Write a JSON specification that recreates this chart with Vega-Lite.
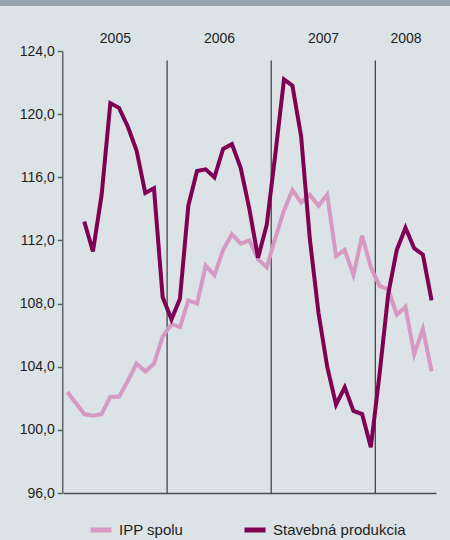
{
  "$schema": "https://vega.github.io/schema/vega-lite/v6.json",
  "background": "#dce3e7",
  "padding": 0,
  "spacing": 25,
  "bounds": "full",
  "config": {
    "view": {"stroke": null},
    "font": "Liberation Sans"
  },
  "vconcat": [
    {
      "width": 450,
      "height": 6,
      "view": {"fill": "#93a4ae", "stroke": null},
      "data": {"values": []},
      "mark": "rect",
      "encoding": {}
    },
    {
      "spacing": 0,
      "bounds": "full",
      "hconcat": [
        {
          "width": 62.25,
          "height": 442,
          "data": {"values": []},
          "mark": "point",
          "encoding": {
            "y": {
              "field": "index",
              "type": "quantitative",
              "scale": {"domain": [96, 124], "nice": false, "zero": false},
              "axis": {
                "orient": "left",
                "offset": -62.25,
                "title": null,
                "values": [96, 100, 104, 108, 112, 116, 120, 124],
                "labelExpr": "replace(format(datum.value, '.1f'), '.', ',')",
                "grid": false,
                "domainColor": "#5d6266",
                "domainWidth": 1.5,
                "tickColor": "#5d6266",
                "tickWidth": 1.5,
                "tickSize": 5,
                "labelPadding": 3,
                "labelFontSize": 14,
                "labelColor": "#1e1e1e",
                "labelFlush": false
              }
            }
          }
        },
        {
          "width": 373,
          "height": 442,
          "resolve": {"axis": {"x": "independent"}, "legend": {"color": "independent"}},
          "layer": [
            {
              "data": {
                "values": [
                  {"hranica": "2006-01-01"},
                  {"hranica": "2007-01-01"},
                  {"hranica": "2008-01-01"}
                ]
              },
              "mark": {"type": "rule", "color": "#1a1a1a", "strokeWidth": 1},
              "encoding": {
                "x": {
                  "field": "hranica",
                  "type": "temporal",
                  "scale": {
                    "type": "utc",
                    "domain": [
                      {"year": 2005, "month": 1, "date": 1, "utc": true},
                      {"year": 2008, "month": 8, "date": 1, "utc": true}
                    ]
                  },
                  "axis": {
                    "orient": "top",
                    "title": null,
                    "values": [
                      {"year": 2005, "month": 7, "date": 2, "utc": true},
                      {"year": 2006, "month": 7, "date": 2, "utc": true},
                      {"year": 2007, "month": 7, "date": 2, "utc": true},
                      {"year": 2008, "month": 4, "date": 16, "utc": true}
                    ],
                    "labelExpr": "utcFormat(datum.value, '%Y')",
                    "ticks": false,
                    "domain": false,
                    "grid": false,
                    "labelFontSize": 14,
                    "labelColor": "#1e1e1e",
                    "labelPadding": 6,
                    "labelFlush": false,
                    "labelOverlap": false,
                    "minExtent": 20,
                    "maxExtent": 20
                  }
                },
                "y": {
                  "datum": 123.4,
                  "type": "quantitative",
                  "scale": {"domain": [96, 124], "nice": false, "zero": false},
                  "axis": null
                },
                "y2": {"datum": 96}
              }
            },
            {
              "data": {
                "values": [
                  {"mesiac": "2005-01-01", "rad": "IPP spolu", "index": 102.4},
                  {"mesiac": "2005-02-01", "rad": "IPP spolu", "index": 101.7},
                  {"mesiac": "2005-03-01", "rad": "IPP spolu", "index": 101.0},
                  {"mesiac": "2005-04-01", "rad": "IPP spolu", "index": 100.9},
                  {"mesiac": "2005-05-01", "rad": "IPP spolu", "index": 101.0},
                  {"mesiac": "2005-06-01", "rad": "IPP spolu", "index": 102.1},
                  {"mesiac": "2005-07-01", "rad": "IPP spolu", "index": 102.1},
                  {"mesiac": "2005-08-01", "rad": "IPP spolu", "index": 103.1},
                  {"mesiac": "2005-09-01", "rad": "IPP spolu", "index": 104.2},
                  {"mesiac": "2005-10-01", "rad": "IPP spolu", "index": 103.7},
                  {"mesiac": "2005-11-01", "rad": "IPP spolu", "index": 104.2},
                  {"mesiac": "2005-12-01", "rad": "IPP spolu", "index": 105.9},
                  {"mesiac": "2006-01-01", "rad": "IPP spolu", "index": 106.7},
                  {"mesiac": "2006-02-01", "rad": "IPP spolu", "index": 106.5},
                  {"mesiac": "2006-03-01", "rad": "IPP spolu", "index": 108.2},
                  {"mesiac": "2006-04-01", "rad": "IPP spolu", "index": 108.0},
                  {"mesiac": "2006-05-01", "rad": "IPP spolu", "index": 110.4},
                  {"mesiac": "2006-06-01", "rad": "IPP spolu", "index": 109.8},
                  {"mesiac": "2006-07-01", "rad": "IPP spolu", "index": 111.4},
                  {"mesiac": "2006-08-01", "rad": "IPP spolu", "index": 112.4},
                  {"mesiac": "2006-09-01", "rad": "IPP spolu", "index": 111.8},
                  {"mesiac": "2006-10-01", "rad": "IPP spolu", "index": 112.0},
                  {"mesiac": "2006-11-01", "rad": "IPP spolu", "index": 110.8},
                  {"mesiac": "2006-12-01", "rad": "IPP spolu", "index": 110.3},
                  {"mesiac": "2007-01-01", "rad": "IPP spolu", "index": 112.2},
                  {"mesiac": "2007-02-01", "rad": "IPP spolu", "index": 113.9},
                  {"mesiac": "2007-03-01", "rad": "IPP spolu", "index": 115.2},
                  {"mesiac": "2007-04-01", "rad": "IPP spolu", "index": 114.4},
                  {"mesiac": "2007-05-01", "rad": "IPP spolu", "index": 114.9},
                  {"mesiac": "2007-06-01", "rad": "IPP spolu", "index": 114.2},
                  {"mesiac": "2007-07-01", "rad": "IPP spolu", "index": 114.9},
                  {"mesiac": "2007-08-01", "rad": "IPP spolu", "index": 111.0},
                  {"mesiac": "2007-09-01", "rad": "IPP spolu", "index": 111.4},
                  {"mesiac": "2007-10-01", "rad": "IPP spolu", "index": 109.8},
                  {"mesiac": "2007-11-01", "rad": "IPP spolu", "index": 112.3},
                  {"mesiac": "2007-12-01", "rad": "IPP spolu", "index": 110.3},
                  {"mesiac": "2008-01-01", "rad": "IPP spolu", "index": 109.1},
                  {"mesiac": "2008-02-01", "rad": "IPP spolu", "index": 108.9},
                  {"mesiac": "2008-03-01", "rad": "IPP spolu", "index": 107.3},
                  {"mesiac": "2008-04-01", "rad": "IPP spolu", "index": 107.8},
                  {"mesiac": "2008-05-01", "rad": "IPP spolu", "index": 104.8},
                  {"mesiac": "2008-06-01", "rad": "IPP spolu", "index": 106.4},
                  {"mesiac": "2008-07-01", "rad": "IPP spolu", "index": 103.7},
                  {"mesiac": "2005-03-01", "rad": "Stavebná produkcia", "index": 113.2},
                  {"mesiac": "2005-04-01", "rad": "Stavebná produkcia", "index": 111.3},
                  {"mesiac": "2005-05-01", "rad": "Stavebná produkcia", "index": 114.9},
                  {"mesiac": "2005-06-01", "rad": "Stavebná produkcia", "index": 120.7},
                  {"mesiac": "2005-07-01", "rad": "Stavebná produkcia", "index": 120.4},
                  {"mesiac": "2005-08-01", "rad": "Stavebná produkcia", "index": 119.2},
                  {"mesiac": "2005-09-01", "rad": "Stavebná produkcia", "index": 117.7},
                  {"mesiac": "2005-10-01", "rad": "Stavebná produkcia", "index": 115.0},
                  {"mesiac": "2005-11-01", "rad": "Stavebná produkcia", "index": 115.3},
                  {"mesiac": "2005-12-01", "rad": "Stavebná produkcia", "index": 108.4},
                  {"mesiac": "2006-01-01", "rad": "Stavebná produkcia", "index": 107.0},
                  {"mesiac": "2006-02-01", "rad": "Stavebná produkcia", "index": 108.3},
                  {"mesiac": "2006-03-01", "rad": "Stavebná produkcia", "index": 114.2},
                  {"mesiac": "2006-04-01", "rad": "Stavebná produkcia", "index": 116.4},
                  {"mesiac": "2006-05-01", "rad": "Stavebná produkcia", "index": 116.5},
                  {"mesiac": "2006-06-01", "rad": "Stavebná produkcia", "index": 116.0},
                  {"mesiac": "2006-07-01", "rad": "Stavebná produkcia", "index": 117.8},
                  {"mesiac": "2006-08-01", "rad": "Stavebná produkcia", "index": 118.1},
                  {"mesiac": "2006-09-01", "rad": "Stavebná produkcia", "index": 116.6},
                  {"mesiac": "2006-10-01", "rad": "Stavebná produkcia", "index": 114.0},
                  {"mesiac": "2006-11-01", "rad": "Stavebná produkcia", "index": 110.9},
                  {"mesiac": "2006-12-01", "rad": "Stavebná produkcia", "index": 113.0},
                  {"mesiac": "2007-01-01", "rad": "Stavebná produkcia", "index": 117.6},
                  {"mesiac": "2007-02-01", "rad": "Stavebná produkcia", "index": 122.2},
                  {"mesiac": "2007-03-01", "rad": "Stavebná produkcia", "index": 121.8},
                  {"mesiac": "2007-04-01", "rad": "Stavebná produkcia", "index": 118.6},
                  {"mesiac": "2007-05-01", "rad": "Stavebná produkcia", "index": 112.1},
                  {"mesiac": "2007-06-01", "rad": "Stavebná produkcia", "index": 107.4},
                  {"mesiac": "2007-07-01", "rad": "Stavebná produkcia", "index": 104.0},
                  {"mesiac": "2007-08-01", "rad": "Stavebná produkcia", "index": 101.6},
                  {"mesiac": "2007-09-01", "rad": "Stavebná produkcia", "index": 102.7},
                  {"mesiac": "2007-10-01", "rad": "Stavebná produkcia", "index": 101.2},
                  {"mesiac": "2007-11-01", "rad": "Stavebná produkcia", "index": 101.0},
                  {"mesiac": "2007-12-01", "rad": "Stavebná produkcia", "index": 98.9},
                  {"mesiac": "2008-01-01", "rad": "Stavebná produkcia", "index": 103.6},
                  {"mesiac": "2008-02-01", "rad": "Stavebná produkcia", "index": 108.6},
                  {"mesiac": "2008-03-01", "rad": "Stavebná produkcia", "index": 111.4},
                  {"mesiac": "2008-04-01", "rad": "Stavebná produkcia", "index": 112.8},
                  {"mesiac": "2008-05-01", "rad": "Stavebná produkcia", "index": 111.5},
                  {"mesiac": "2008-06-01", "rad": "Stavebná produkcia", "index": 111.1},
                  {"mesiac": "2008-07-01", "rad": "Stavebná produkcia", "index": 108.2}
                ]
              },
              "mark": {"type": "line", "strokeWidth": 4, "clip": true},
              "encoding": {
                "x": {
                  "field": "mesiac",
                  "type": "temporal",
                  "timeUnit": "utcyearmonth",
                  "bandPosition": 0.5,
                  "scale": {
                    "type": "utc",
                    "domain": [
                      {"year": 2005, "month": 1, "date": 1, "utc": true},
                      {"year": 2008, "month": 8, "date": 1, "utc": true}
                    ]
                  },
                  "axis": {
                    "orient": "bottom",
                    "title": null,
                    "labels": false,
                    "ticks": false,
                    "grid": false,
                    "domain": true,
                    "domainColor": "#4a4f53",
                    "domainWidth": 1.5,
                    "minExtent": 0,
                    "maxExtent": 0
                  }
                },
                "y": {
                  "field": "index",
                  "type": "quantitative",
                  "scale": {"domain": [96, 124], "nice": false, "zero": false},
                  "axis": null
                },
                "color": {
                  "field": "rad",
                  "type": "nominal",
                  "scale": {
                    "domain": ["IPP spolu", "Stavebná produkcia"],
                    "range": ["#d699c2", "#800055"]
                  },
                  "legend": {
                    "orient": "none",
                    "legendX": 25,
                    "legendY": 466,
                    "direction": "horizontal",
                    "title": null,
                    "symbolType": "stroke",
                    "symbolStrokeWidth": 5,
                    "symbolSize": 441,
                    "labelFontSize": 15,
                    "labelColor": "#1e1e1e",
                    "labelOffset": 5,
                    "columnPadding": 50
                  }
                }
              }
            }
          ]
        }
      ]
    }
  ]
}
